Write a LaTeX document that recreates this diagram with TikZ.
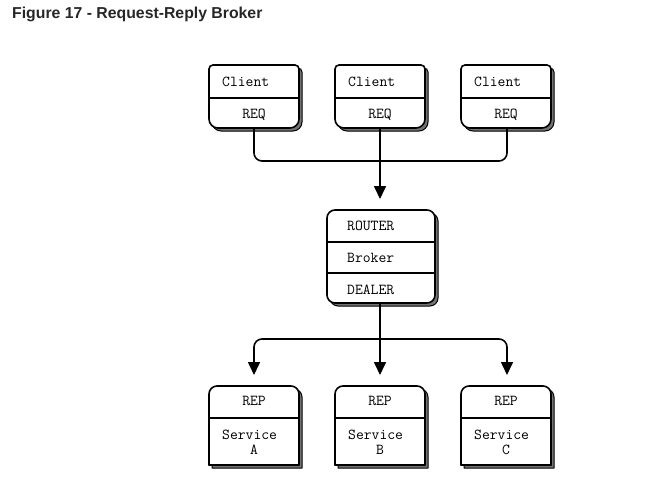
\documentclass[tikz,border=0pt]{standalone}
\usepackage{fontspec}
\setmainfont{Liberation Sans}
\usetikzlibrary{arrows.meta}
\definecolor{shadowc}{gray}{0.45}
\newcommand\zmpath[6]{(#1,{(#2+#4)/2}) [rounded corners=#5] -- (#1,#2) -- ({(#1+#3)/2},#2) -- (#3,#2) -- (#3,{(#2+#4)/2}) [rounded corners=#6] -- (#3,#4) -- ({(#1+#3)/2},#4) -- (#1,#4) -- cycle}
\newcommand\zmbox[6]{%
  \begin{scope}[shift={(3,3)}]
    \filldraw[fill=shadowc, draw=black, line width=1pt] \zmpath{#1}{#2}{#3}{#4}{#5}{#6};
  \end{scope}
  \filldraw[fill=white, draw=black, line width=1.6pt] \zmpath{#1}{#2}{#3}{#4}{#5}{#6};
}
\tikzset{
  mono/.style={font=\ttfamily\fontsize{15.2}{17}\selectfont, inner sep=0pt, anchor=base},
  monol/.style={mono, anchor=base west},
  divline/.style={line width=1.6pt},
  conn/.style={line width=1.6pt, rounded corners=8pt},
  arr/.style={line width=1.6pt, -{Triangle[length=13pt,width=12pt]}},
}
\begin{document}
\begin{tikzpicture}[x=1pt,y=-1pt]
\useasboundingbox (0,0) rectangle (653,485);
\node[anchor=base west, inner sep=0pt, font=\bfseries\fontsize{15.8}{18}\selectfont, text=black!85] (title) at (12,18) {Figure 17 - Request-Reply Broker};

% clients
\foreach \l/\n in {209/1,335/2,461/3}{
  \zmbox{\l}{65}{\l+90}{128}{4}{9}
  \draw[divline] (\l,98) -- (\l+90,98);
}
\node[monol] (cl1) at (222,86) {Client};
\node[monol] (cl2) at (348,86) {Client};
\node[monol] (cl3) at (474,86) {Client};
\node[mono] (rq1) at (254,118) {REQ};
\node[mono] (rq2) at (380,118) {REQ};
\node[mono] (rq3) at (506,118) {REQ};

% broker
\zmbox{327}{210}{435}{303}{8}{8}
\draw[divline] (327,242) -- (435,242);
\draw[divline] (327,273) -- (435,273);
\node[monol] (router) at (347,230) {ROUTER};
\node[monol] (broker) at (347,262) {Broker};
\node[monol] (dealer) at (347,294) {DEALER};

% services
\foreach \l in {209,335,461}{
  \zmbox{\l}{386}{\l+90}{465}{8}{0.01}
  \draw[divline] (\l,418) -- (\l+90,418);
}
\node[mono] (rp1) at (254,405) {REP};
\node[mono] (rp2) at (380,405) {REP};
\node[mono] (rp3) at (506,405) {REP};
\node[monol] (sv1) at (222,439) {Service};
\node[monol] (sv2) at (348,439) {Service};
\node[monol] (sv3) at (474,439) {Service};
\node[mono] (sa) at (254,454) {A};
\node[mono] (sb) at (380,454) {B};
\node[mono] (sc) at (506,454) {C};

% anchor coordinates
\coordinate (c1b) at (254,129);
\coordinate (c2b) at (380,129);
\coordinate (c3b) at (507,129);
\coordinate (j1) at (380,161);
\coordinate (brt) at (380,199);
\coordinate (brb) at (380,304);
\coordinate (j2) at (380,339);
\coordinate (s1t) at (254,375);
\coordinate (s2t) at (380,375);
\coordinate (s3t) at (507,375);

\draw[conn] (c1b) |- (j1);
\draw[conn] (c3b) |- (j1);
\draw[arr] (c2b) -- (brt);
\draw[arr] (brb) -- (s2t);
\draw[arr, rounded corners=8pt] (j2) -| (s1t);
\draw[arr, rounded corners=8pt] (j2) -| (s3t);
\end{tikzpicture}
\end{document}
